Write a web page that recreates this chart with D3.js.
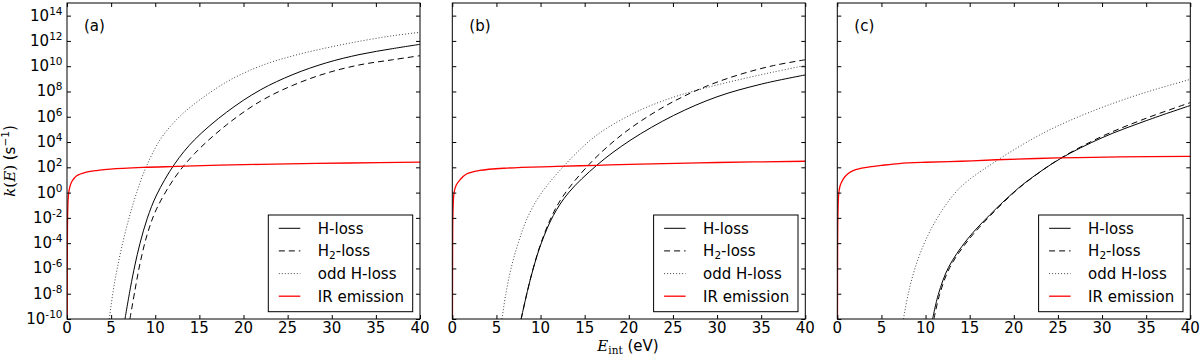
<!DOCTYPE html>
<html><head><meta charset="utf-8">
<script src="https://cdn.jsdelivr.net/npm/d3@7"></script>
<style>body{margin:0;background:#fff}</style>
</head><body>
<svg id="chart" width="1200" height="360"></svg>
<script>
// ---------- data (E in eV, log10 k in s^-1) ----------
const panelLabels = ["(a)", "(b)", "(c)"];
const xTickValues = [0, 5, 10, 15, 20, 25, 30, 35, 40];
const yTickExponents = [-10, -8, -6, -4, -2, 0, 2, 4, 6, 8, 10, 12, 14];
const seriesNames = ["H-loss", "H2-loss", "odd H-loss", "IR emission"];

// Panel (a)
const aHloss = [[6.57,-10],[7.2,-7.48],[7.7,-5.73],[8.27,-4.02],[9.1,-2.03],[10.15,-0.19],[12.2,2.27],[14.45,4.18],[18.1,6.37],[21.9,8.12],[25.6,9.34],[29.4,10.27],[33.2,10.93],[36.9,11.39],[40,11.73]];
const aH2loss = [[7.13,-10],[7.7,-7.73],[8.27,-5.62],[9.1,-3.28],[10.15,-1.29],[12.2,1.17],[14.45,3.08],[18.1,5.37],[21.9,7.22],[25.6,8.49],[29.4,9.45],[33.2,10.11],[36.9,10.51],[40,10.83]];
const aOddH = [[4.79,-10],[5.24,-7.75],[5.7,-5.96],[6.38,-3.78],[7.13,-1.76],[7.89,-0.01],[8.95,2.0],[10.6,4.23],[12.4,5.76],[14.3,6.94],[18.1,8.76],[21.9,10.01],[25.6,10.82],[29.4,11.45],[33.2,11.98],[36.9,12.41],[40,12.68]];
const aIR = [[0.02,-10],[0.04,-4],[0.08,-1.5],[0.15,-0.3],[0.3,0.4],[0.55,0.88],[1.1,1.33],[2.2,1.62],[3.5,1.76],[4.9,1.86],[8.6,1.99],[12.4,2.07],[17.3,2.17],[25,2.27],[32,2.34],[40,2.41]];

// Panel (b)
const bHloss = [[7.8,-10],[8.5,-7.83],[9.18,-5.99],[10.1,-3.97],[11.45,-1.81],[13.15,-0.03],[16.4,2.18],[20.15,4.13],[25.07,6.1],[30,7.58],[35,8.58],[40,9.31]];
const bH2loss = [[7.8,-10],[8.5,-7.83],[9.15,-6.04],[10.0,-4.09],[11.25,-1.9],[12.55,-0.28],[15.5,2.23],[18.45,4.15],[21.3,5.63],[25.07,7.21],[28.85,8.43],[32.6,9.35],[36.4,10.05],[40,10.51]];
const bOddH = [[5.63,-10],[6.05,-8.07],[6.65,-6.03],[7.48,-3.96],[8.55,-1.93],[9.94,-0.19],[12.66,2.12],[15.6,4.12],[17.5,5.09],[21.3,6.53],[25.07,7.55],[28.85,8.31],[32.6,8.95],[36.4,9.54],[40,10.06]];
const bIR = [[0.02,-10],[0.04,-4],[0.08,-1.5],[0.2,0.0],[0.45,0.6],[0.87,1.01],[1.6,1.47],[3.1,1.75],[6.2,1.94],[11.8,2.07],[16.4,2.16],[21.3,2.26],[30,2.38],[40,2.48]];

// Panel (c)
const cHloss = [[10.8,-10],[11.45,-8.05],[12.6,-5.92],[14.67,-3.75],[17.3,-1.75],[20.15,0.13],[21.85,1.08],[25.26,2.68],[30,4.34],[35,5.69],[40,6.89]];
const cH2loss = [[10.95,-10],[11.6,-8.05],[12.75,-5.92],[14.8,-3.8],[17.4,-1.78],[20.2,0.12],[21.9,1.08],[25.26,2.7],[30,4.45],[35,5.88],[40,7.12]];
const cOddH = [[7.49,-10],[8.05,-7.98],[8.8,-5.99],[9.94,-3.88],[11.34,-1.99],[13.35,-0.02],[14.85,0.97],[18.45,2.7],[21,3.8],[23,4.58],[25,5.28],[27,5.9],[29,6.47],[31,7.0],[33,7.49],[35,7.94],[37,8.36],[40,8.96]];
const cIR = [[0.02,-10],[0.04,-4],[0.08,-1.5],[0.15,-0.2],[0.3,0.5],[0.7,1.1],[1.2,1.5],[2,1.8],[3.3,2.0],[5,2.15],[7,2.3],[10,2.4],[14,2.48],[18,2.6],[25,2.74],[32,2.82],[40,2.87]];

const panelData = [
  [aHloss, aH2loss, aOddH, aIR],
  [bHloss, bH2loss, bOddH, bIR],
  [cHloss, cH2loss, cOddH, cIR]
];

// ---------- layout ----------
const svg = d3.select("#chart");
const panelLefts = [67, 452.3, 837.3];
const panelW = 353, plotTop = 3, plotBottom = 319;
const sans = "DejaVu Sans", serif = "DejaVu Serif";
const styles = [
  {stroke: "#000", width: 1, dash: null},
  {stroke: "#000", width: 1, dash: "6,4"},
  {stroke: "#444", width: 1, dash: "1,2"},
  {stroke: "#ff0000", width: 1.3, dash: null}
];

const y = d3.scaleLog().domain([1e-10, 1e15]).range([plotBottom, plotTop]);

panelData.forEach((series, pi) => {
  const left = panelLefts[pi], right = left + panelW;
  const x = d3.scaleLinear().domain([0, 40]).range([left, right]);
  const g = svg.append("g");

  const clipId = "clip" + pi;
  svg.append("clipPath").attr("id", clipId).append("rect")
    .attr("x", left).attr("y", plotTop).attr("width", panelW).attr("height", plotBottom - plotTop);

  const line = d3.line()
    .x(d => x(d[0]))
    .y(d => y(Math.pow(10, d[1])))
    .curve(d3.curveCatmullRom.alpha(0.5));

  const lines = g.append("g").attr("clip-path", `url(#${clipId})`);
  series.forEach((s, si) => {
    const st = styles[si];
    lines.append("path").attr("d", line(s))
      .attr("fill", "none").attr("stroke", st.stroke)
      .attr("stroke-width", st.width)
      .attr("stroke-dasharray", st.dash);
  });

  // axes (ticks inward on all sides)
  const yTickVals = yTickExponents.map(e => Math.pow(10, e));
  const xb = d3.axisBottom(x).tickValues(xTickValues).tickSizeInner(-4).tickSizeOuter(0).tickFormat("");
  const xt = d3.axisTop(x).tickValues(xTickValues).tickSizeInner(-4).tickSizeOuter(0).tickFormat("");
  const yl = d3.axisLeft(y).tickValues(yTickVals).tickSizeInner(-4).tickSizeOuter(0).tickFormat("");
  const yr = d3.axisRight(y).tickValues(yTickVals).tickSizeInner(-4).tickSizeOuter(0).tickFormat("");
  [[xb, `translate(0,${plotBottom})`], [xt, `translate(0,${plotTop})`], [yl, `translate(${left},0)`], [yr, `translate(${right},0)`]]
    .forEach(([ax, tr]) => {
      const a = g.append("g").attr("transform", tr).call(ax);
      a.select(".domain").remove();
      a.selectAll("text").remove();
      a.selectAll("line").attr("stroke", "#000").attr("stroke-width", 1);
    });

  // frame
  g.append("rect").attr("x", left).attr("y", plotTop).attr("width", panelW).attr("height", plotBottom - plotTop)
    .attr("fill", "none").attr("stroke", "#000").attr("stroke-width", 1);

  // x tick labels
  xTickValues.forEach(v => {
    g.append("text").attr("x", x(v)).attr("y", 333).attr("text-anchor", "middle")
      .attr("font-family", sans).attr("font-size", 15).attr("fill", "#000").text(v);
  });

  // y tick labels on first panel
  if (pi === 0) {
    yTickExponents.forEach(e => {
      const t = g.append("text").attr("x", left - 4.5).attr("y", y(Math.pow(10, e)) + 5)
        .attr("text-anchor", "end").attr("font-family", sans).attr("font-size", 15).attr("fill", "#000");
      t.append("tspan").text("10");
      t.append("tspan").attr("font-size", 10.5).attr("dy", -6).text(e < 0 ? "-" + Math.abs(e) : String(e));
    });
  }

  // panel label
  g.append("text").attr("x", left + 17).attr("y", 31).attr("font-family", sans)
    .attr("font-size", 15).attr("fill", "#000").text(panelLabels[pi]);

  // legend
  const lw = 144.4, lh = 96.7;
  const lx = right - 7.3 - lw, ly = plotBottom - 7.3 - lh;
  const lg = g.append("g");
  lg.append("rect").attr("x", lx).attr("y", ly).attr("width", lw).attr("height", lh)
    .attr("fill", "#fff").attr("stroke", "#000").attr("stroke-width", 1);
  const rowY = [13.3, 35.9, 58.6, 81.2];
  seriesNames.forEach((name, si) => {
    const st = styles[si];
    const cy = ly + rowY[si];
    lg.append("line").attr("x1", lx + 10.5).attr("x2", lx + 32).attr("y1", cy).attr("y2", cy)
      .attr("stroke", st.stroke).attr("stroke-width", st.width).attr("stroke-dasharray", st.dash);
    const t = lg.append("text").attr("x", lx + 49.5).attr("y", cy + 5.5)
      .attr("font-family", sans).attr("font-size", 15).attr("fill", "#000");
    if (name === "H2-loss") {
      t.append("tspan").text("H");
      t.append("tspan").attr("font-size", 10.5).attr("dy", 3).text("2");
      t.append("tspan").attr("dy", -3).text("-loss");
    } else {
      t.text(name);
    }
  });
});

// x axis label
const xl = svg.append("text").attr("x", 628).attr("y", 350.5).attr("text-anchor", "middle")
  .attr("font-size", 15).attr("fill", "#000");
xl.append("tspan").attr("font-family", serif).attr("font-style", "italic").text("E");
xl.append("tspan").attr("font-family", serif).attr("font-size", 10.5).attr("dy", 3).text("int");
xl.append("tspan").attr("font-family", sans).attr("dy", -3).text(" (eV)");

// y axis label
const ylab = svg.append("text").attr("transform", "translate(15,161) rotate(-90)")
  .attr("text-anchor", "middle").attr("font-size", 15).attr("fill", "#000");
ylab.append("tspan").attr("font-family", serif).attr("font-style", "italic").text("k");
ylab.append("tspan").attr("font-family", serif).text("(");
ylab.append("tspan").attr("font-family", serif).attr("font-style", "italic").text("E");
ylab.append("tspan").attr("font-family", serif).text(")");
ylab.append("tspan").attr("font-family", sans).text(" (s");
ylab.append("tspan").attr("font-family", sans).attr("font-size", 10.5).attr("dy", -6).text("\u22121");
ylab.append("tspan").attr("font-family", sans).attr("dy", 6).text(")");
</script>
</body></html>
